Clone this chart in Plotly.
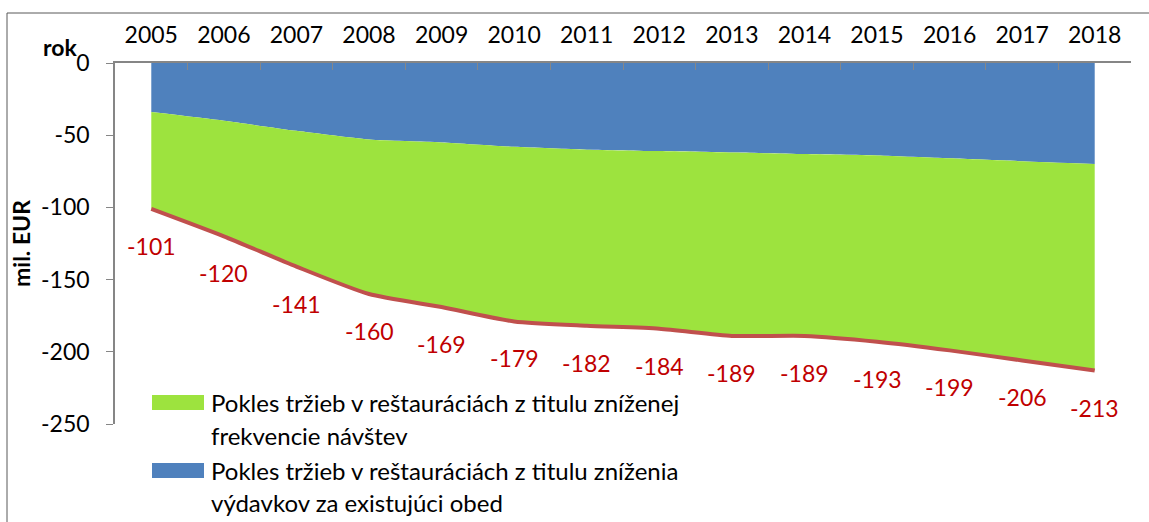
import plotly.graph_objects as go

# roky a hodnoty (mil. EUR)
years = ["2005", "2006", "2007", "2008", "2009", "2010", "2011",
         "2012", "2013", "2014", "2015", "2016", "2017", "2018"]
vydavky = [-34, -40, -47, -53, -55, -58, -60, -61, -62, -63, -64, -66, -68, -70]
spolu = [-101, -120, -141, -160, -169, -179, -182, -184, -189, -189, -193, -199, -206, -213]

y_tickvals = [0, -50, -100, -150, -200, -250]
y_ticktext = ["0", "-50", "-100", "-150", "-200", "-250"]

legend_names = [
    ["Pokles tržieb v reštauráciách z titulu zníženej", "frekvencie návštev"],
    ["Pokles tržieb v reštauráciách z titulu zníženia", "výdavkov za existujúci obed"],
]
legend_colors = ["#9DE33E", "#4F81BD"]

FONT = "Lato, Carlito, Calibri, sans-serif"
W, H = 1149, 522
L, R, T, B = 115, 18, 63, 98
PW, PH = W - L - R, H - T - B


def px(x):
    return (x - L) / PW


def py(y):
    return (H - B - y) / PH


fig = go.Figure()

# vydavky (modra plocha)
fig.add_scatter(x=years, y=vydavky, mode="lines", fill="tozeroy", fillcolor="#4F81BD",
                line=dict(width=0, shape="spline", smoothing=0.6), showlegend=False, hoverinfo="skip")
# frekvencia (zelena plocha medzi modrou a celkom)
fig.add_scatter(x=years, y=spolu, mode="lines", fill="tonexty", fillcolor="#9DE33E",
                line=dict(width=0, shape="spline", smoothing=0.6), showlegend=False, hoverinfo="skip")
# spolu - cervena ciara
fig.add_scatter(x=years, y=spolu, mode="lines", line=dict(color="#C0504D", width=4, shape="spline", smoothing=0.6),
                showlegend=False)

annotations = []
# popisky hodnot (x ako index kategorie)
for i, v in enumerate(spolu):
    annotations.append(dict(x=i, y=v, xref="x", yref="y", text=str(v), showarrow=False, yshift=-37,
                            font=dict(color="#C00000", size=23, family=FONT)))

annotations.append(dict(x=px(60), y=py(47), xref="paper", yref="paper", xanchor="center", yanchor="middle",
                        text="<b>rok</b>", showarrow=False, font=dict(size=23, family=FONT, color="black")))

# legenda
shapes = []
sw_top = [395, 463]
line_y = [[402, 435], [470, 502]]
for i in range(2):
    shapes.append(dict(type="rect", xref="paper", yref="paper", x0=px(152), x1=px(204),
                       y0=py(sw_top[i] + 15), y1=py(sw_top[i]), fillcolor=legend_colors[i], line_width=0))
    for j in range(2):
        annotations.append(dict(x=px(209), y=py(line_y[i][j]), xref="paper", yref="paper", xanchor="left",
                                yanchor="middle", text=legend_names[i][j], showarrow=False,
                                font=dict(size=24, family=FONT, color="black")))

# ramik grafu
shapes.append(dict(type="rect", xref="paper", yref="paper", x0=px(7), x1=px(1160), y0=py(540), y1=py(13),
                   line=dict(color="#595959", width=1), fillcolor="rgba(0,0,0,0)", layer="below"))

fig.update_layout(
    width=W, height=H,
    margin=dict(l=L, r=R, t=T, b=B),
    plot_bgcolor="white", paper_bgcolor="white",
    font=dict(family=FONT, size=23, color="black"),
    showlegend=False,
    annotations=annotations,
    shapes=shapes,
    xaxis=dict(type="category", side="top", range=[-0.5, 13.5], showgrid=False, zeroline=False,
               showline=True, linecolor="#868686", linewidth=1.5, ticks="inside", ticklen=7,
               tickcolor="#868686", tickson="boundaries", ticklabelstandoff=9),
    yaxis=dict(range=[-250, 0], tickvals=y_tickvals, ticktext=y_ticktext, showgrid=False, zeroline=False,
               showline=True, linecolor="#868686", linewidth=1.5, ticks="outside", ticklen=7,
               tickcolor="#868686", ticklabelstandoff=12,
               title=dict(text="<b>mil. EUR</b>", standoff=4, font=dict(size=23, family=FONT))),
)

fig.write_html("out.html", config={"displayModeBar": False},
               post_script="document.body.style.margin='0';")
